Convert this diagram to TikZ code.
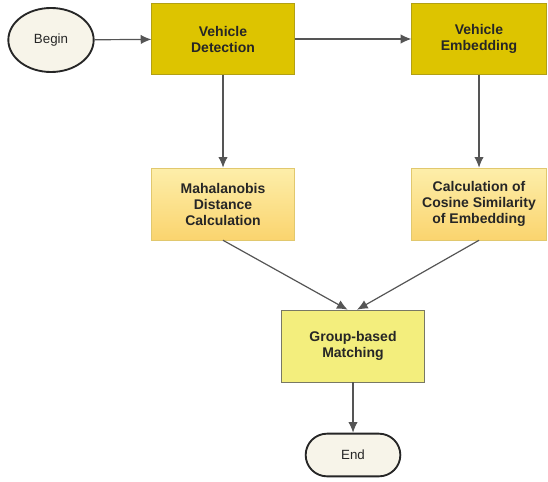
\documentclass[tikz,border=0pt]{standalone}
\usepackage{fontspec}
\setmainfont{Liberation Sans}
\usepackage{xcolor}
\usetikzlibrary{arrows.meta,shapes}
\definecolor{detfill}{RGB}{221,196,0}
\definecolor{detline}{RGB}{178,160,20}
\definecolor{caltop}{RGB}{253,238,170}
\definecolor{calbot}{RGB}{250,212,110}
\definecolor{calline}{RGB}{225,200,110}
\definecolor{grpfill}{RGB}{243,238,125}
\definecolor{grpline}{RGB}{120,120,100}
\definecolor{termfill}{RGB}{247,244,233}
\definecolor{arrline}{RGB}{85,85,85}

\begin{document}
\begin{tikzpicture}
  [x=0.75pt,y=-0.75pt,
   every node/.style={align=center,text=black!85,font=\fontsize{10.5}{12}\selectfont\bfseries},
   term/.style={draw=black!85,line width=1.4pt,fill=termfill,font=\fontsize{10}{11}\selectfont},
   detbox/.style={rectangle,draw=detline,fill=detfill,minimum width=107pt,minimum height=53pt},
   calbox/.style={rectangle,draw=calline,top color=caltop,bottom color=calbot,minimum width=107pt,minimum height=54pt},
   grpbox/.style={rectangle,draw=grpline,fill=grpfill,minimum width=107pt,minimum height=54pt},
   flow/.style={draw=arrline,line width=0.9pt,-{Latex[length=8pt,width=7pt]}}]
  \useasboundingbox (0,0) rectangle (548,481);

  \node[term,ellipse,minimum width=64pt,minimum height=48pt] (begin) at (51,40) {Begin};
  \node[detbox] (det) at (223,39) {Vehicle\\Detection};
  \node[detbox,minimum width=101pt] (emb) at (479,39) {Vehicle\\Embedding};
  \node[calbox] (maha) at (223,204) {Mahalanobis\\Distance\\Calculation};
  \node[calbox,minimum width=101pt] (cos) at (479,204) {Calculation of\\Cosine Similarity\\of Embedding};
  \node[grpbox] (grp) at (353,346) {Group-based\\Matching};
  \node[term,rectangle,rounded corners=16pt,minimum width=71pt,minimum height=32pt] (end) at (353,455) {End};

  \foreach \from/\to in {begin/det,det/emb,det/maha,emb/cos,grp/end}
    \draw[flow] (\from) -- (\to);
  \draw[flow] (maha.south) -- ([xshift=-4pt]grp.north);
  \draw[flow] (cos.south) -- ([xshift=3pt]grp.north);

\end{tikzpicture}
\end{document}
